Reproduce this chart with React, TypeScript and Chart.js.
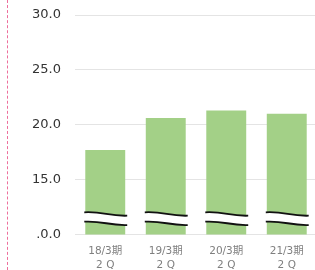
import React, { useEffect, useRef } from "react";
import { Chart, registerables } from "chart.js";

Chart.register(...registerables);

const categories: string[][] = [
  ["18/3期", "2 Q"],
  ["19/3期", "2 Q"],
  ["20/3期", "2 Q"],
  ["21/3期", "2 Q"],
];
const values: number[] = [17.7, 20.6, 21.3, 21.0];
const yMin = 10;
const yMax = 30;
const yStep = 5;
const yTickLabels: Record<number, string> = {
  10: ".0.0",
  15: "15.0",
  20: "20.0",
  25: "25.0",
  30: "30.0",
};
// axis break band (in value units)
const breakUpper = 11.85;
const breakLower = 11.0;

const breakPlugin = {
  id: "axisBreak",
  afterDatasetsDraw(chart: any) {
    const ctx = chart.ctx;
    const yScale = chart.scales.y;
    const meta = chart.getDatasetMeta(0);
    const yA = yScale.getPixelForValue(breakUpper);
    const yB = yScale.getPixelForValue(breakLower);
    meta.data.forEach((bar: any) => {
      const x0 = bar.x - bar.width / 2 - 1;
      const x1 = bar.x + bar.width / 2 + 2;
      const w = x1 - x0;
      const curve = (y: number, moveFirst: boolean, reverse: boolean) => {
        if (!reverse) {
          if (moveFirst) ctx.moveTo(x0, y - 1.8);
          else ctx.lineTo(x0, y - 1.8);
          ctx.bezierCurveTo(x0 + w * 0.45, y - 2.8, x0 + w * 0.55, y + 2.2, x1, y + 1.6);
        } else {
          ctx.lineTo(x1, y + 1.6);
          ctx.bezierCurveTo(x0 + w * 0.55, y + 2.2, x0 + w * 0.45, y - 2.8, x0, y - 1.8);
        }
      };
      ctx.save();
      ctx.beginPath();
      curve(yA, true, false);
      curve(yB, false, true);
      ctx.closePath();
      ctx.fillStyle = "#ffffff";
      ctx.fill();
      ctx.strokeStyle = "#111111";
      ctx.lineWidth = 1.8;
      ctx.beginPath();
      curve(yA, true, false);
      ctx.stroke();
      ctx.beginPath();
      curve(yB, true, false);
      ctx.stroke();
      ctx.restore();
    });
  },
};

export default function App() {
  const ref = useRef<HTMLCanvasElement | null>(null);
  useEffect(() => {
    document.body.style.margin = "0";
    if (!ref.current) return;
    const chart = new Chart(ref.current, {
      type: "bar",
      data: {
        labels: categories,
        datasets: [
          {
            data: values,
            backgroundColor: "#A3D087",
            borderWidth: 0,
            categoryPercentage: 1,
            barPercentage: 0.66,
          },
        ],
      },
      options: {
        animation: false,
        responsive: false,
        devicePixelRatio: 1,
        layout: { padding: { top: 15, right: 0, left: 0, bottom: 0 } },
        plugins: { legend: { display: false }, tooltip: { enabled: false } },
        scales: {
          x: {
            grid: { display: false, drawTicks: false },
            border: { display: false },
            ticks: {
              color: "#7f7f7f",
              padding: 10,
              maxRotation: 0,
              autoSkip: false,
              font: { family: "'DejaVu Sans', 'Noto Sans CJK JP', sans-serif", size: 10.5, lineHeight: 1.3 },
            },
            afterFit: (s: any) => {
              s.height = 35.6;
            },
          },
          y: {
            min: yMin,
            max: yMax,
            grid: { color: "#e4e4e4", lineWidth: 1, drawTicks: false },
            border: { display: false },
            ticks: {
              stepSize: yStep,
              padding: 14,
              color: "#333333",
              font: { family: "'DejaVu Sans', sans-serif", size: 13 },
              callback: (v: any) => yTickLabels[Number(v)] ?? "",
            },
            afterFit: (s: any) => {
              s.width = 75;
              s.paddingTop = 0;
              s.paddingBottom = 0;
            },
          },
        },
      },
      plugins: [breakPlugin],
    });
    return () => chart.destroy();
  }, []);
  return (
    <div style={{ position: "relative", width: 315, height: 270, overflow: "hidden" }}>
      <div
        style={{
          position: "absolute",
          left: 7,
          top: 0,
          height: 270,
          borderLeft: "1px dashed #ee6f9c",
        }}
      />
      <canvas ref={ref} width={317} height={270} style={{ position: "absolute", left: 0, top: 0 }} />
    </div>
  );
}
